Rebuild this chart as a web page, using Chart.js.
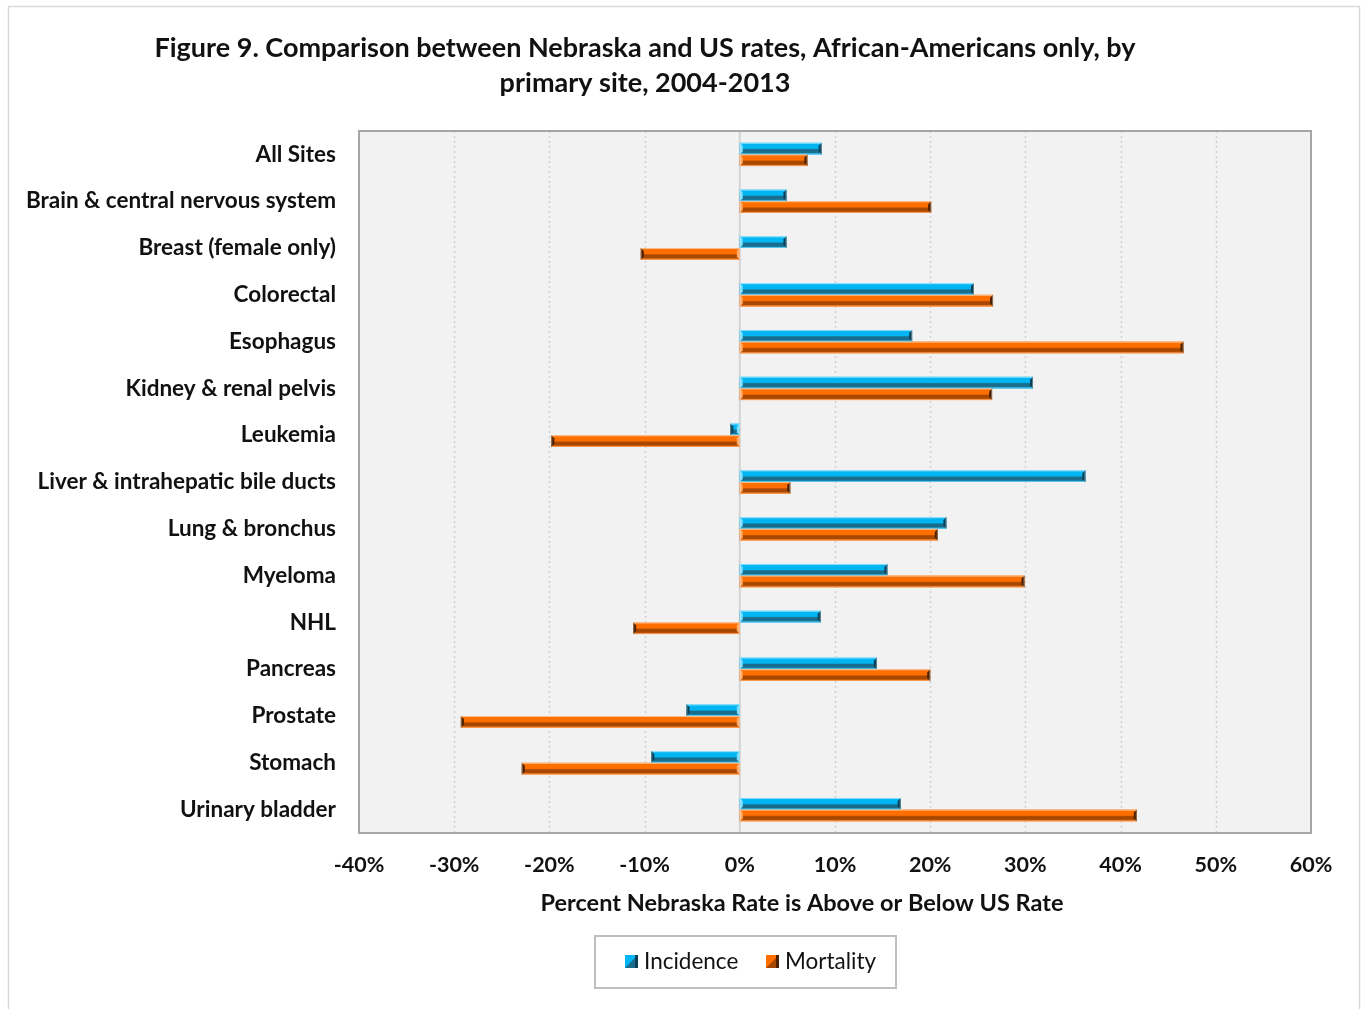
<!DOCTYPE html>
<html>
<head>
<meta charset="utf-8">
<script src="https://cdn.jsdelivr.net/npm/chart.js@4.4.1/dist/chart.umd.min.js"></script>
<style>
  html, body { margin: 0; padding: 0; background: #fff; }
  #wrap { position: relative; width: 1364px; height: 1009px; }
</style>
</head>
<body>
<div id="wrap"><canvas id="chart"></canvas></div>
<script>
/* ── DATA ─────────────────────────────────── */
const titleLines = [
  'Figure 9. Comparison between Nebraska and US rates, African-Americans only, by',
  'primary site, 2004-2013'
];
const sites = [
  'All Sites', 'Brain & central nervous system', 'Breast (female only)', 'Colorectal',
  'Esophagus', 'Kidney & renal pelvis', 'Leukemia', 'Liver & intrahepatic bile ducts',
  'Lung & bronchus', 'Myeloma', 'NHL', 'Pancreas', 'Prostate', 'Stomach', 'Urinary bladder'
];
const incidence = [8.6, 4.9, 4.9, 24.6, 18.1, 30.8, -1.0, 36.3, 21.7, 15.5, 8.5, 14.4, -5.6, -9.3, 16.9];
const mortality = [7.1, 20.1, -10.4, 26.6, 46.6, 26.5, -19.8, 5.3, 20.8, 29.9, -11.2, 20.0, -29.3, -22.9, 41.7];
const xMin = -40, xMax = 60, xStep = 10;
const xAxisTitle = 'Percent Nebraska Rate is Above or Below US Rate';

/* ── STYLE ────────────────────────────────── */
const FONT = 'Lato, "Open Sans", sans-serif';
const palette = [
  { main: '#00B5F2', light: '#7ADCFF', dark: '#1A6C8C', edge: '#0B3F55' },
  { main: '#FF6F00', light: '#FFAA66', dark: '#A84700', edge: '#4A2000' }
];

/* bevelled bar fill, like the Excel 3D-ish bars */
function bevelFill(ctx, left, top, w, h, pal) {
  const g = ctx.createLinearGradient(0, top, 0, top + h);
  g.addColorStop(0, pal.light);
  g.addColorStop(0.14, pal.main);
  g.addColorStop(0.48, pal.main);
  g.addColorStop(0.6, pal.dark);
  g.addColorStop(0.82, pal.dark);
  g.addColorStop(1, pal.main);
  ctx.fillStyle = g;
  ctx.fillRect(left, top, w, h);
}

const decor = {
  id: 'decor',
  beforeDraw(chart) {
    const { ctx, chartArea: a, scales: { x } } = chart;
    ctx.save();
    ctx.fillStyle = '#fff';
    ctx.fillRect(0, 0, chart.width, chart.height);
    ctx.strokeStyle = '#d9d9d9';
    ctx.lineWidth = 1.5;
    ctx.strokeRect(8.5, 6.5, 1351, 1020);
    ctx.fillStyle = '#f2f2f2';
    ctx.fillRect(a.left, a.top, a.right - a.left, a.bottom - a.top);

    // dotted grid lines
    ctx.strokeStyle = '#d0d0d0';
    ctx.lineWidth = 1.5;
    ctx.setLineDash([2, 3]);
    x.ticks.forEach(t => {
      if (t.value === 0 || t.value === xMin || t.value === xMax) return;
      const px = Math.round(x.getPixelForValue(t.value)) + 0.5;
      ctx.beginPath(); ctx.moveTo(px, a.top); ctx.lineTo(px, a.bottom); ctx.stroke();
    });
    ctx.setLineDash([]);
    ctx.lineWidth = 2;
    ctx.strokeStyle = '#d4d4d4';
    const z = x.getPixelForValue(0);
    ctx.beginPath(); ctx.moveTo(z, a.top); ctx.lineTo(z, a.bottom); ctx.stroke();
    ctx.restore();
  },
  afterDatasetsDraw(chart) {
    const ctx = chart.ctx;
    ctx.save();
    chart.data.datasets.forEach((ds, i) => {
      const pal = palette[i];
      chart.getDatasetMeta(i).data.forEach(bar => {
        const { x, y, base, height } = bar.getProps(['x', 'y', 'base', 'height'], true);
        const left = Math.min(x, base), right = Math.max(x, base);
        const top = y - height / 2, w = right - left;
        if (w <= 0) return;
        bevelFill(ctx, left, top, w, height, pal);
        const b = Math.min(3, w / 2);
        const end = x, dir = x >= base ? -1 : 1;
        // dark cap at the value end
        ctx.fillStyle = pal.edge;
        ctx.beginPath();
        ctx.moveTo(end, top); ctx.lineTo(end + dir * b, top + b);
        ctx.lineTo(end + dir * b, top + height - b); ctx.lineTo(end, top + height);
        ctx.closePath(); ctx.fill();
        // light cap at the base end
        ctx.fillStyle = pal.light;
        ctx.beginPath();
        ctx.moveTo(base, top); ctx.lineTo(base - dir * b, top + b);
        ctx.lineTo(base - dir * b, top + height - b); ctx.lineTo(base, top + height);
        ctx.closePath(); ctx.fill();
        ctx.strokeStyle = 'rgba(255,255,255,0.35)';
        ctx.lineWidth = 1;
        ctx.strokeRect(left + 0.5, top + 0.5, w - 1, height - 1);
      });
    });
    ctx.restore();
  },
  afterDraw(chart) {
    const { ctx, chartArea: a } = chart;
    ctx.save();
    // plot border
    ctx.strokeStyle = '#a6a6a6';
    ctx.lineWidth = 2;
    ctx.strokeRect(a.left, a.top, a.right - a.left, a.bottom - a.top);

    // title
    ctx.fillStyle = '#111';
    ctx.textAlign = 'center';
    ctx.textBaseline = 'middle';
    ctx.font = 'bold 27px ' + FONT;
    ctx.fillText(titleLines[0], 645, 48);
    ctx.fillText(titleLines[1], 645, 83);

    // axis title
    ctx.font = 'bold 23.5px ' + FONT;
    ctx.fillText(xAxisTitle, 802, 903);

    // legend
    ctx.strokeStyle = '#bfbfbf';
    ctx.lineWidth = 2;
    ctx.fillStyle = '#fff';
    ctx.fillRect(595, 936, 301, 52);
    ctx.strokeRect(595, 936, 301, 52);
    const items = [[625, 644], [766, 785]];
    ctx.font = '22.5px ' + FONT;
    ctx.textAlign = 'left';
    chart.data.datasets.forEach((ds, i) => {
      const [mx, tx] = items[i];
      const pal = palette[i];
      const my = 955, s = 13;
      ctx.fillStyle = pal.main;
      ctx.fillRect(mx, my, s, s);
      ctx.fillStyle = pal.dark;
      ctx.beginPath(); ctx.moveTo(mx, my + s); ctx.lineTo(mx + s, my); ctx.lineTo(mx + s, my + s); ctx.closePath(); ctx.fill();
      ctx.fillStyle = pal.edge;
      ctx.fillRect(mx + s - 3, my, 3, s);
      ctx.fillStyle = '#111';
      ctx.fillText(ds.label, tx, 962);
    });
    ctx.restore();
  }
};

/* ── CHART ────────────────────────────────── */
new Chart(document.getElementById('chart'), {
  type: 'bar',
  data: {
    labels: sites,
    datasets: [
      { label: 'Incidence', data: incidence, backgroundColor: palette[0].main, borderWidth: 0 },
      { label: 'Mortality', data: mortality, backgroundColor: palette[1].main, borderWidth: 0 }
    ]
  },
  options: {
    indexAxis: 'y',
    responsive: true,
    maintainAspectRatio: false,
    animation: false,
    categoryPercentage: 0.5,
    barPercentage: 1.0,
    layout: { padding: { top: 131, right: 53, left: 0, bottom: 0 } },
    plugins: {
      legend: { display: false },
      title: { display: false },
      tooltip: { enabled: false }
    },
    scales: {
      x: {
        type: 'linear',
        min: xMin, max: xMax,
        ticks: {
          stepSize: xStep,
          callback: v => v + '%',
          color: '#111',
          font: { family: FONT, size: 21.5, weight: 'bold' },
          padding: 19,
          maxRotation: 0
        },
        grid: { display: false, drawTicks: false },
        border: { display: false },
        afterFit: s => { s.height = 176; }
      },
      y: {
        type: 'category',
        ticks: {
          color: '#111',
          font: { family: FONT, size: 22.5, weight: 'bold' },
          padding: 23,
          autoSkip: false
        },
        grid: { display: false, drawTicks: false },
        border: { display: false },
        afterFit: s => { s.width = 359; }
      }
    }
  },
  plugins: [decor]
});
</script>
</body>
</html>
